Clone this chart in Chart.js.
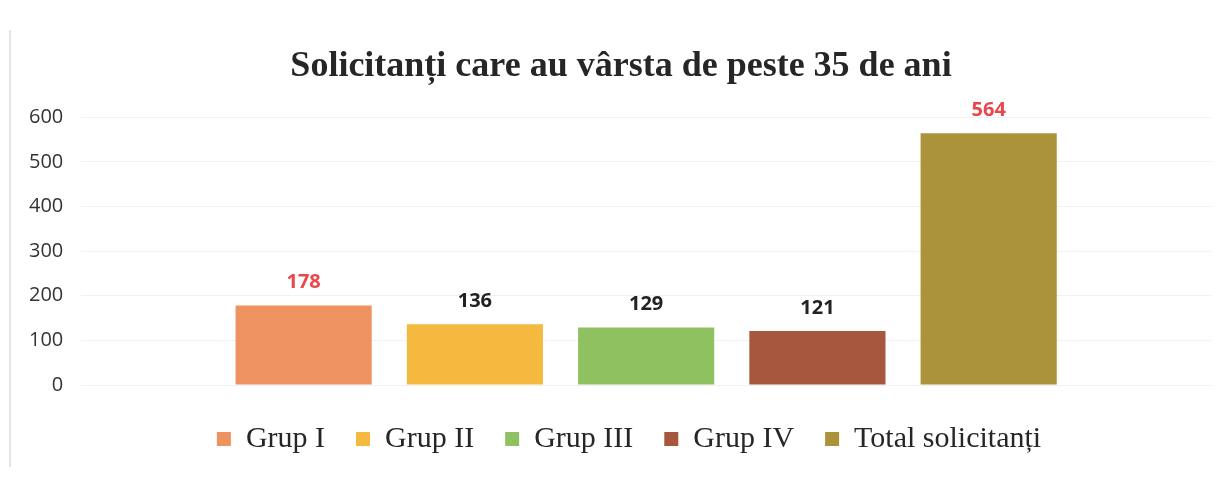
<!DOCTYPE html>
<html>
<head>
<meta charset="utf-8">
<script src="https://cdn.jsdelivr.net/npm/chart.js@4.4.1/dist/chart.umd.min.js"></script>
<style>
  html, body { margin: 0; padding: 0; background: #fff; }
  .chart-container { position: relative; width: 1222px; height: 477px; }
  .chart-container::before {
    content: ""; position: absolute; left: 9px; top: 30px; bottom: 10px;
    border-left: 2px solid #e4e4e4;
  }
</style>
</head>
<body>
<div class="chart-container"><canvas id="ageChart"></canvas></div>
<script>
// Data
const groupNames = ["Grup I", "Grup II", "Grup III", "Grup IV", "Total solicitanți"];
const groupValues = [178, 136, 129, 121, 564];
const yTicks = [0, 100, 200, 300, 400, 500, 600];

const barColors = ["#ee9360", "#f6b93f", "#8fc160", "#a8573f", "#ab933b"];
const labelColors = ["#e8474b", "#222222", "#222222", "#222222", "#e8474b"];

// Draws the value above each bar
const valueLabelPlugin = {
  id: "valueLabels",
  afterDatasetsDraw: (chart) => {
    const ctx = chart.ctx;
    ctx.save();
    ctx.font = "bold 20px 'Open Sans', 'Noto Sans', sans-serif";
    ctx.textAlign = "center";
    ctx.textBaseline = "bottom";
    chart.data.datasets.forEach((ds, i) => {
      const bar = chart.getDatasetMeta(i).data[0];
      ctx.fillStyle = labelColors[i];
      ctx.fillText(ds.data[0], bar.x, bar.y - 13);
    });
    ctx.restore();
  },
};

// Nudges the title and legend a bit to the right, like in the original
const nudgePlugin = {
  id: "nudge",
  afterLayout: (chart) => {
    if (chart.titleBlock) {
      chart.titleBlock.left += 10;
      chart.titleBlock.right += 10;
    }
    if (chart.legend) {
      chart.legend.left += 18;
      chart.legend.right += 18;
    }
  },
};

const datasets = groupNames.map((name, i) => ({
  label: name,
  data: [groupValues[i]],
  backgroundColor: barColors[i],
  borderWidth: 0,
  categoryPercentage: 0.758,
  barPercentage: 0.795,
}));

new Chart(document.getElementById("ageChart").getContext("2d"), {
  type: "bar",
  data: { labels: [""], datasets: datasets },
  plugins: [valueLabelPlugin, nudgePlugin],
  options: {
    responsive: true,
    maintainAspectRatio: false,
    animation: false,
    layout: { padding: { left: 11, right: 11, top: 0, bottom: 13 } },
    scales: {
      x: {
        grid: { display: false },
        border: { display: false },
        ticks: { display: false },
      },
      y: {
        min: 0,
        max: 600,
        afterBuildTicks: (axis) => {
          axis.ticks = yTicks.map((v) => ({ value: v }));
        },
        grid: { color: "#f1f1f1", drawTicks: false },
        border: { display: false },
        ticks: {
          padding: 18,
          color: "#333",
          font: { family: "'Open Sans', 'Noto Sans', sans-serif", size: 20 },
        },
      },
    },
    plugins: {
      title: {
        display: true,
        text: "Solicitanți care au vârsta de peste 35 de ani",
        color: "#262626",
        font: { family: "'Liberation Serif', serif", size: 36, weight: "bold" },
        padding: { top: 45, bottom: 29 },
      },
      legend: {
        position: "bottom",
        labels: {
          color: "#262626",
          boxWidth: 14,
          boxHeight: 14,
          padding: 31,
          font: { family: "'Liberation Serif', serif", size: 30 },
        },
      },
      tooltip: { enabled: false },
    },
  },
});
</script>
</body>
</html>
